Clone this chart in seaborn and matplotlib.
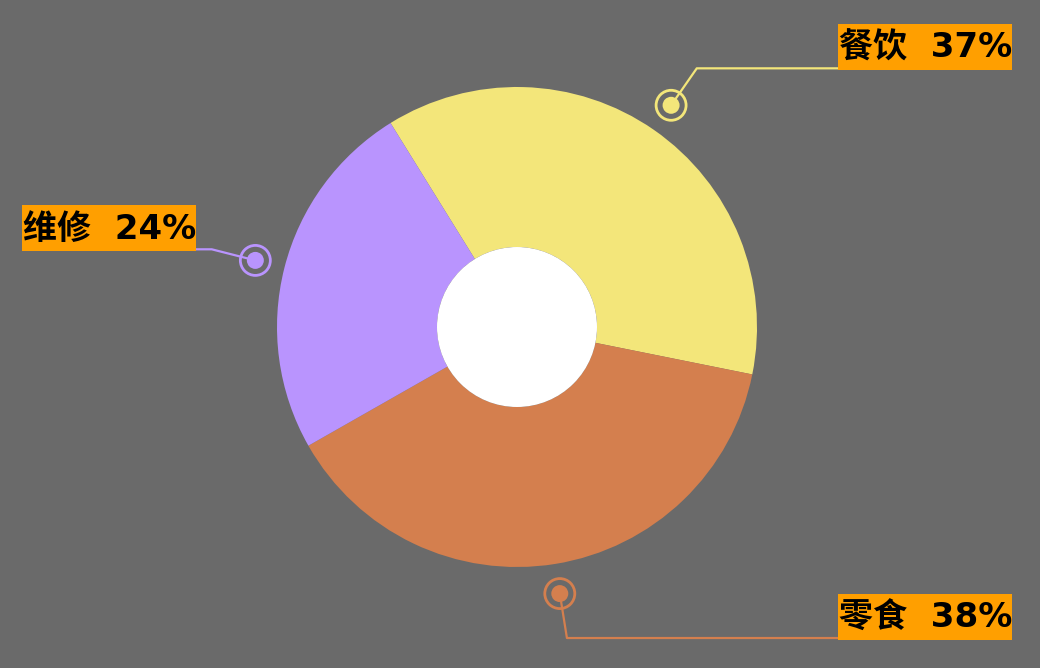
import numpy as np
import matplotlib
matplotlib.use("Agg")
import matplotlib.pyplot as plt
import seaborn as sns
from matplotlib.patches import Circle, Rectangle

categories = ["餐饮", "零食", "维修"]
values = [37.0, 38.6, 24.4]
pct_labels = ["37%", "38%", "24%"]
slice_colors = ["#f3e67a", "#d47f4e", "#b994fe"]

sns.set_style("white")
plt.rcParams['font.family'] = ['DejaVu Sans', 'Noto Sans CJK SC']

BG = "#6a6a6a"
LABEL_BG = "#ff9f00"
W, H = 1040, 668
fig = plt.figure(figsize=(W / 100, H / 100), dpi=100, facecolor=BG)
ax = fig.add_axes([0, 0, 1, 1])
ax.set_facecolor(BG)

cx, cy = 517, H - 327
R, r_in = 240, 80
start = 121.8
palette = sns.color_palette(slice_colors)

ax.pie(values, colors=palette, startangle=start, counterclock=False,
       radius=R, center=(cx, cy), wedgeprops=dict(width=R - r_in, edgecolor='none'))
ax.add_patch(Circle((cx, cy), r_in, fc='white', ec='none', zorder=3))

total = sum(values)
angles = []
acc = start
for v in values:
    span = v / total * 360
    angles.append(acc - span / 2)
    acc -= span

box_w, box_h = 174, 46
for cat, pct, col, ang in zip(categories, pct_labels, palette, angles):
    a = np.deg2rad(ang)
    mx, my = cx + 270 * np.cos(a), cy + 270 * np.sin(a)
    ex, ey = cx + 315 * np.cos(a), cy + 315 * np.sin(a)
    right = np.cos(a) > 0
    if right:
        bx = 1012 - box_w
        lx = bx
    else:
        bx = 22
        lx = bx + box_w
    by = ey - 1.5
    ax.plot([mx, ex, lx], [my, ey, ey], color=col, lw=1.6, zorder=4, solid_capstyle='butt')
    ax.add_patch(Circle((mx, my), 15, fc='none', ec=col, lw=2.0, zorder=5))
    ax.add_patch(Circle((mx, my), 8.5, fc=col, ec='none', zorder=6))
    ax.add_patch(Rectangle((bx, by), box_w, box_h, fc=LABEL_BG, ec='none', zorder=5))
    ax.text(bx + 1, by + 12, f"{cat}  {pct}", ha='left', va='baseline',
            fontsize=24.5, fontweight='bold', color='black', zorder=6)

ax.set_xlim(0, W)
ax.set_ylim(0, H)
ax.set_aspect('equal')
ax.axis('off')
fig.savefig("out.png", dpi=100, facecolor=BG)
